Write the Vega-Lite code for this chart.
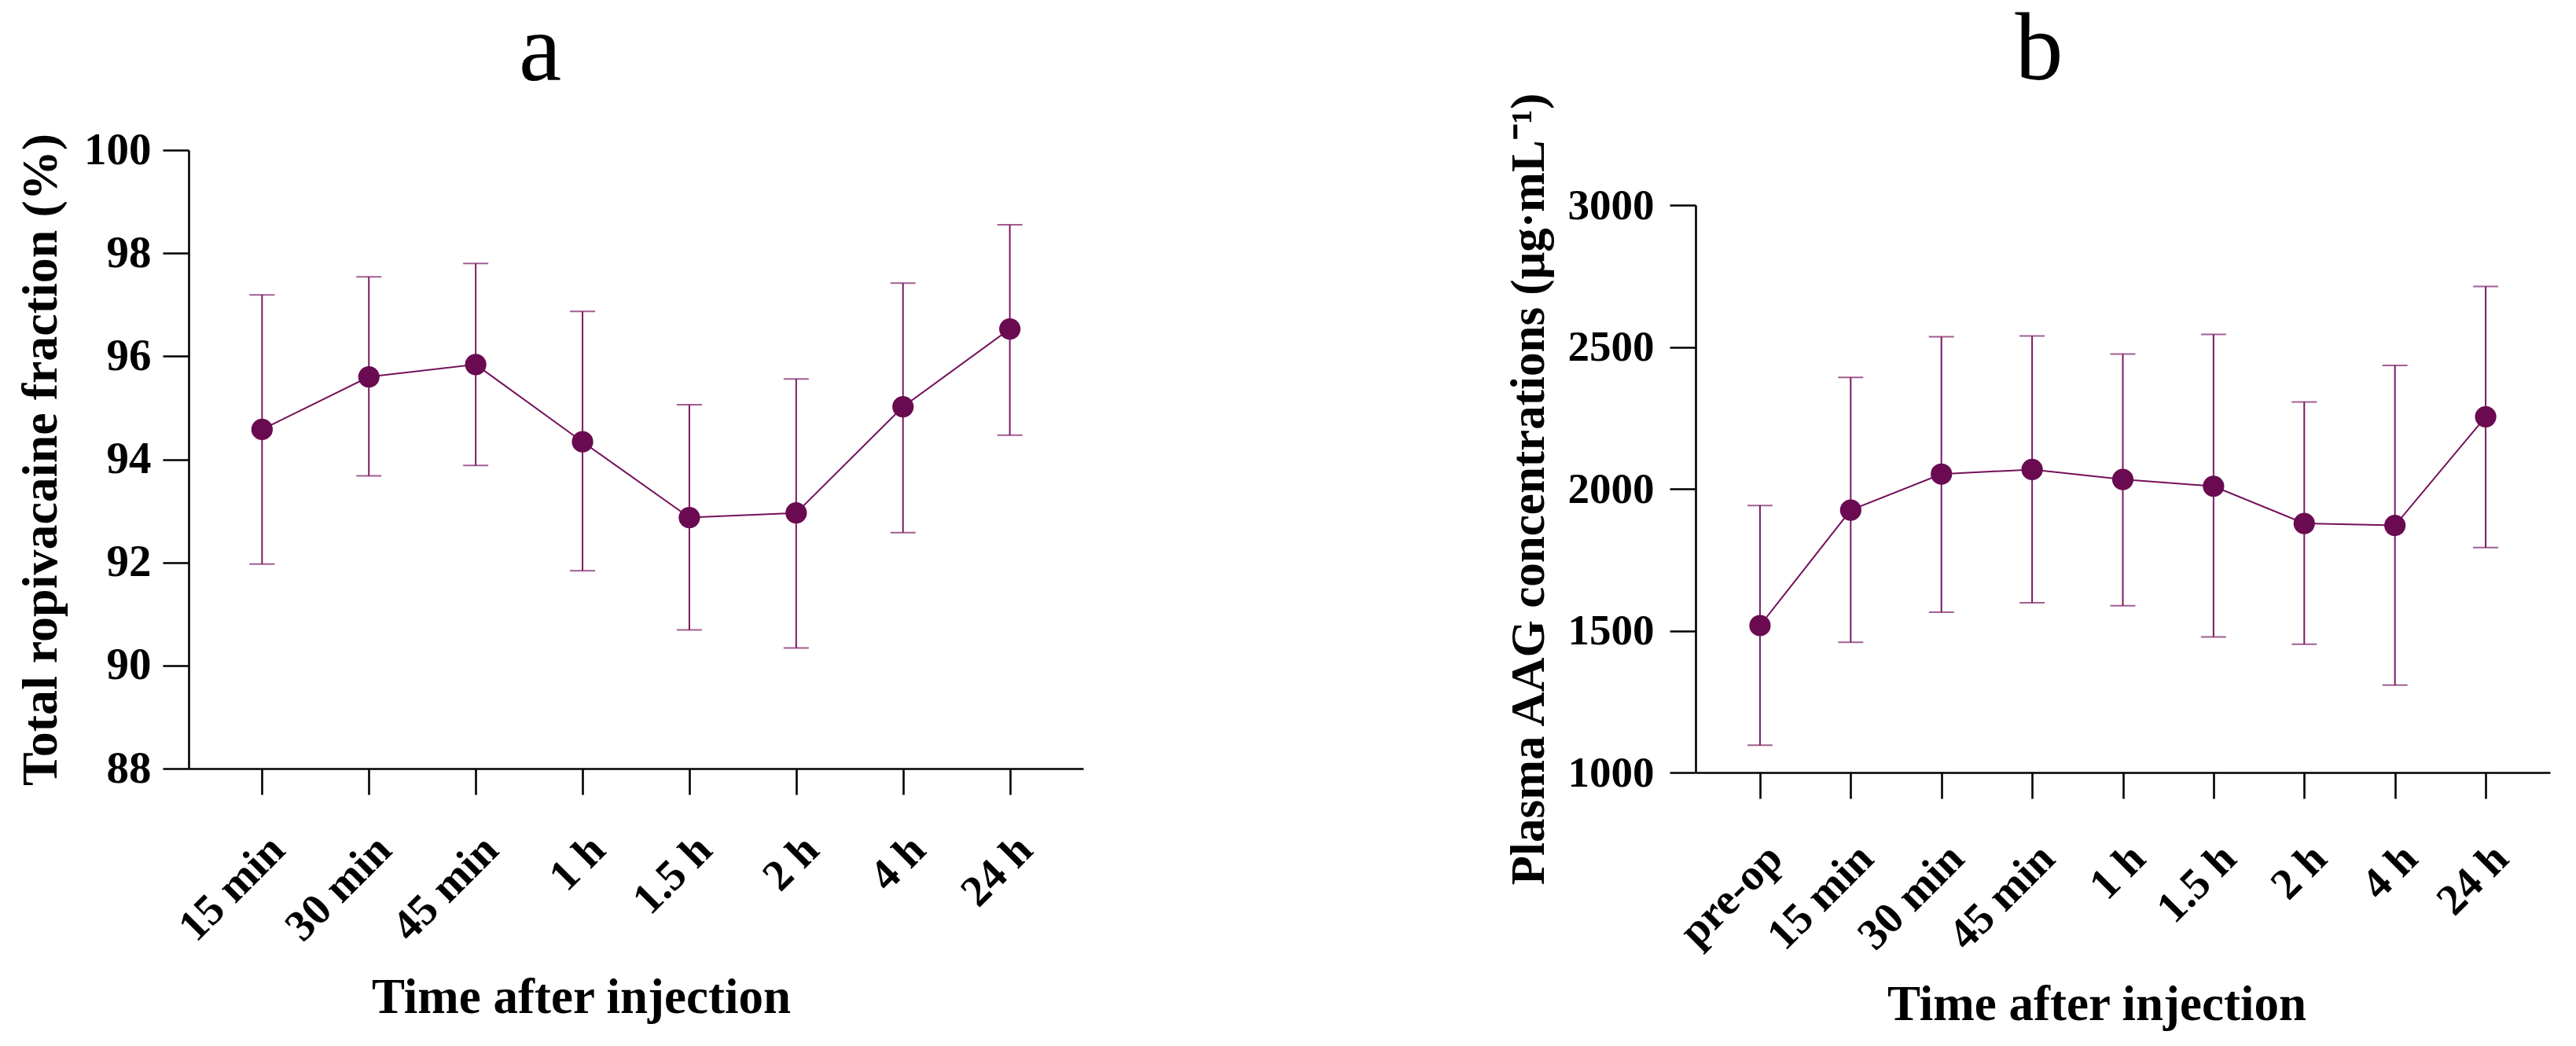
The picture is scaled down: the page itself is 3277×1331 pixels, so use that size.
{
  "$schema": "https://vega.github.io/schema/vega-lite/v6.json",
  "background": "white",
  "padding": {"left": 19, "top": 2, "right": 5, "bottom": 5},
  "spacing": 535,
  "config": {
    "font": "Liberation Serif",
    "view": {"stroke": null},
    "axis": {
      "domainColor": "#000000",
      "domainWidth": 2.6,
      "tickColor": "#000000",
      "tickWidth": 2.6,
      "tickSize": 33,
      "grid": false,
      "labelFont": "Liberation Serif",
      "labelFontWeight": "bold",
      "labelFontSize": 57,
      "labelColor": "#000000",
      "labelOverlap": false,
      "labelFlush": false,
      "titleFont": "Liberation Serif",
      "titleFontWeight": "bold",
      "titleFontSize": 63,
      "titleColor": "#000000"
    },
    "axisX": {"labelFontSize": 56},
    "title": {"font": "Liberation Serif", "fontWeight": "normal", "fontSize": 122, "color": "#000000"}
  },
  "hconcat": [
    {
      "title": {"text": "a", "anchor": "start", "frame": "group", "align": "center", "dx": 447, "baseline": "alphabetic", "offset": -62},
      "width": 1138,
      "height": 787,
      "data": {
        "values": [
          {"time": "15 min", "mean": 94.58, "lo": 91.97, "hi": 97.19},
          {"time": "30 min", "mean": 95.6, "lo": 93.68, "hi": 97.54},
          {"time": "45 min", "mean": 95.84, "lo": 93.88, "hi": 97.8},
          {"time": "1 h", "mean": 94.34, "lo": 91.84, "hi": 96.87},
          {"time": "1.5 h", "mean": 92.87, "lo": 90.69, "hi": 95.06},
          {"time": "2 h", "mean": 92.96, "lo": 90.34, "hi": 95.56},
          {"time": "4 h", "mean": 95.02, "lo": 92.58, "hi": 97.42},
          {"time": "24 h", "mean": 96.53, "lo": 94.47, "hi": 98.55}
        ]
      },
      "encoding": {
        "x": {
          "field": "time",
          "type": "ordinal",
          "sort": null,
          "scale": {"type": "point", "padding": 0.687},
          "axis": {"title": "Time after injection", "labelAngle": -45, "labelPadding": 42, "titleX": 499, "titleY": 310, "titleBaseline": "alphabetic"}
        }
      },
      "layer": [
        {
          "mark": {"type": "rule", "color": "#7a1a62", "strokeWidth": 2},
          "encoding": {
            "y": {"field": "lo", "type": "quantitative", "scale": {"domain": [88, 100], "nice": false}, "axis": {"title": "Total ropivacaine fraction (%)", "titleFontSize": 64, "values": [88, 90, 92, 94, 96, 98, 100], "format": "d", "labelPadding": 15, "titleX": -169, "titleBaseline": "alphabetic"}},
            "y2": {"field": "hi"}
          }
        },
        {
          "mark": {"type": "tick", "color": "#7a1a62", "thickness": 2, "size": 32, "orient": "horizontal"},
          "encoding": {"y": {"field": "lo", "type": "quantitative"}}
        },
        {
          "mark": {"type": "tick", "color": "#7a1a62", "thickness": 2, "size": 32, "orient": "horizontal"},
          "encoding": {"y": {"field": "hi", "type": "quantitative"}}
        },
        {
          "mark": {"type": "line", "color": "#74105a", "strokeWidth": 2},
          "encoding": {"y": {"field": "mean", "type": "quantitative"}}
        },
        {
          "mark": {"type": "point", "filled": true, "color": "#6a0a50", "opacity": 1, "size": 740},
          "encoding": {"y": {"field": "mean", "type": "quantitative"}}
        }
      ]
    },
    {
      "title": {"text": "b", "anchor": "start", "frame": "group", "align": "center", "dx": 437, "baseline": "alphabetic", "offset": -106},
      "bounds": "flush",
      "spacing": 69,
      "vconcat": [
        {
          "width": 1087,
          "height": 1,
          "data": {"values": [{}]},
          "mark": {"type": "point", "opacity": 0},
          "encoding": {}
        },
        {
          "width": 1087,
          "height": 722,
          "data": {
            "values": [
              {"time": "pre-op", "mean": 1518, "lo": 1096, "hi": 1941},
              {"time": "15 min", "mean": 1925, "lo": 1459, "hi": 2393},
              {"time": "30 min", "mean": 2052, "lo": 1565, "hi": 2536},
              {"time": "45 min", "mean": 2068, "lo": 1598, "hi": 2539},
              {"time": "1 h", "mean": 2033, "lo": 1588, "hi": 2475},
              {"time": "1.5 h", "mean": 2009, "lo": 1478, "hi": 2544},
              {"time": "2 h", "mean": 1878, "lo": 1452, "hi": 2306},
              {"time": "4 h", "mean": 1871, "lo": 1308, "hi": 2435},
              {"time": "24 h", "mean": 2254, "lo": 1793, "hi": 2713}
            ]
          },
          "encoding": {
            "x": {
              "field": "time",
              "type": "ordinal",
              "sort": null,
              "scale": {"type": "point", "padding": 0.71},
              "axis": {"title": "Time after injection", "labelAngle": -45, "labelPadding": 48, "titleX": 510, "titleY": 314, "titleBaseline": "alphabetic"}
            }
          },
          "layer": [
            {
              "mark": {"type": "rule", "color": "#7a1a62", "strokeWidth": 2},
              "encoding": {
                "y": {"field": "lo", "type": "quantitative", "scale": {"domain": [1000, 3000], "nice": false}, "axis": {"title": "Plasma AAG concentrations (μg·mL⁻¹)", "titleFontSize": 61, "labelFontSize": 55, "values": [1000, 1500, 2000, 2500, 3000], "format": "d", "labelPadding": 20, "titleX": -194, "titleBaseline": "alphabetic"}},
                "y2": {"field": "hi"}
              }
            },
            {
              "mark": {"type": "tick", "color": "#7a1a62", "thickness": 2, "size": 32, "orient": "horizontal"},
              "encoding": {"y": {"field": "lo", "type": "quantitative"}}
            },
            {
              "mark": {"type": "tick", "color": "#7a1a62", "thickness": 2, "size": 32, "orient": "horizontal"},
              "encoding": {"y": {"field": "hi", "type": "quantitative"}}
            },
            {
              "mark": {"type": "line", "color": "#74105a", "strokeWidth": 2},
              "encoding": {"y": {"field": "mean", "type": "quantitative"}}
            },
            {
              "mark": {"type": "point", "filled": true, "color": "#6a0a50", "opacity": 1, "size": 740},
              "encoding": {"y": {"field": "mean", "type": "quantitative"}}
            }
          ]
        }
      ]
    }
  ]
}
